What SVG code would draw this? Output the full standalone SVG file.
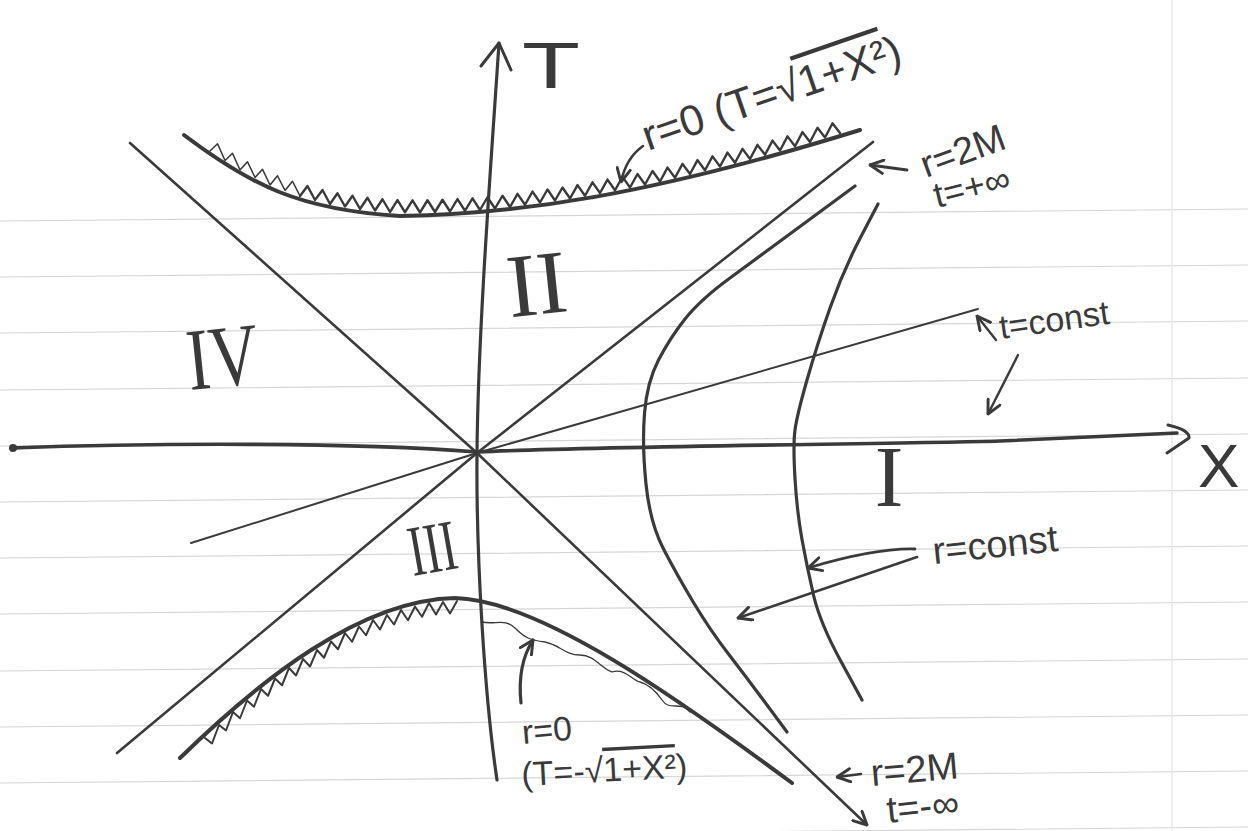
<svg xmlns="http://www.w3.org/2000/svg" width="1248" height="831" viewBox="0 0 1248 831">
<defs>
<style>
.ink{fill:none;stroke:#3a3a3a;stroke-linecap:round;stroke-linejoin:round}
.rule{stroke:#d6d6d6;stroke-width:1.2;fill:none}
.hw{font-family:"Liberation Sans","DejaVu Sans",sans-serif;fill:#3a3a3a}
.rn{font-family:"Liberation Serif","DejaVu Serif",serif;fill:#3a3a3a}
</style>
<marker id="ah" viewBox="0 0 12 12" refX="11" refY="6" markerWidth="16" markerHeight="16" markerUnits="userSpaceOnUse" orient="auto">
<path d="M1,1 L11,6 L1,11" fill="none" stroke="#3a3a3a" stroke-width="2.2" stroke-linecap="round" stroke-linejoin="round"/>
</marker>
</defs>
<rect width="1248" height="831" fill="#ffffff"/>
<g id="paper">
<path class="rule" d="M0,221 L1248,209 M0,277 L1248,265 M0,333 L1248,321 M0,390 L1248,378 M0,446 L1248,434 M0,502 L1248,490 M0,558 L1248,546 M0,614 L1248,602 M0,671 L1248,659 M0,727 L1248,715 M0,783 L1248,771 M0,839 L1248,827"/>
<path d="M1172,0 L1172,831" stroke="#e8e8e8" stroke-width="1.5"/>
</g>
<g id="axes">
<path class="ink" stroke-width="3.6" d="M12,448 C150,443 350,442 477,452 C600,446 900,444 1000,441 L1177,433"/>
<circle cx="13" cy="448" r="4" fill="#3a3a3a"/>
<path class="ink" stroke-width="3" d="M1168,425 Q1190,430 1189,438 L1167,453"/>
<path class="ink" stroke-width="3.2" d="M497,780 C485,700 476,560 477,453 C478,330 492,150 499,43"/>
<path class="ink" stroke-width="3" d="M481,66 L499,43 L511,70"/>
</g>
<g id="lightcone">
<path class="ink" stroke-width="2.6" d="M130,143 L477,453 L867,825" marker-end="url(#ah)"/>
<path class="ink" stroke-width="2.6" d="M117,753 L477,453 L873,142"/>
</g>
<g id="t-const-line">
<path class="ink" stroke-width="2" d="M191,543 L477,453 L978,309"/>
</g>
<g id="singularity-top">
<path class="ink" stroke-width="4" d="M184,135 C250,185 300,210 400,216 C520,214 650,195 860,130"/>
<path class="ink" stroke-width="1.6" stroke="#8a8a8a" d="M210,151 l7.5,-7.25 l7.5,16.75 l7.5,-7.25 l7.5,16.75 l7.5,-8.25 l7.5,15.75 l7.5,-8.25 l7.5,15.75 l7.5,-9.25 l7.5,14.75 l7.5,-9.25 l7.5,14.75"/>
<path class="ink" stroke-width="2.4" d="M300,196 l7.5,-10 l7.5,14 l7.5,-10 l7.5,14 l7.5,-10.75 l7.5,13.25 l7.5,-10.75 l7.5,13.25 l7.5,-11.25 l7.5,12.75 l7.5,-11.25 l7.5,12.75 l7.5,-11.875 l7.5,12.125 l7.5,-11.875 l7.5,12.125 l7.5,-12.25 l7.5,11.75 l7.5,-12.25 l7.5,11.75 l7.5,-12.375 l7.5,11.625 l7.5,-12.375 l7.5,11.625 l7.5,-12.75 l7.5,11.25 l7.5,-12.75 l7.5,11.25 l7.5,-13.125 l7.5,10.875 l7.5,-13.125 l7.5,10.875 l7.5,-13 l7.5,11 l7.5,-13 l7.5,11 l7.5,-13.375 l7.5,10.625 l7.5,-13.375 l7.5,10.625 l7.5,-13.375 l7.5,10.625 l7.5,-13.375 l7.5,10.625 l7.5,-13.5 l7.5,10.5 l7.5,-13.5 l7.5,10.5 l7.5,-13.875 l7.5,10.125 l7.5,-13.875 l7.5,10.125 l7.5,-13.875 l7.5,10.125 l7.5,-13.875 l7.5,10.125 l7.5,-13.875 l7.5,10.125 l7.5,-13.875 l7.5,10.125 l7.5,-14.125 l7.5,9.875 l7.5,-14.125 l7.5,9.875 l7.5,-14.125 l7.5,9.875 l7.5,-14.125 l7.5,9.875 l7.5,-14.25 l7.5,9.75 l7.5,-14.25 l7.5,9.75"/>
</g>
<g id="singularity-bottom">
<path class="ink" stroke-width="4" d="M180,758 C260,680 360,600 455,598 C540,600 680,700 792,783"/>
<path class="ink" stroke-width="2" d="M205,738 l7,5.5 l7,-18.5 l7,5.5 l7,-18.5 l7,6.25 l7,-17.75 l7,6.25 l7,-17.75 l7,6.75 l7,-17.25 l7,6.75 l7,-17.25 l7,7.5 l7,-16.5 l7,7.5 l7,-16.5 l7,7.75 l7,-16.25 l7,7.75 l7,-16.25 l7,8.75 l7,-15.25 l7,8.75 l7,-15.25 l7,9.5 l7,-14.5 l7,9.5 l7,-14.5 l7,10.25 l7,-13.75 l7,10.25 l7,-13.75 l7,11.5 l7,-12.5 l7,11.5 l7,-12.5"/>
<path class="ink" stroke-width="1.3" stroke="#8a8a8a" d="M482,622 C495,625 505,618 515,628 S530,640 545,642 C560,645 565,655 580,655 S600,668 612,672 C625,668 632,680 640,682 S655,690 662,700 C670,712 680,700 690,712"/>
</g>
<g id="r-const-curves">
<path class="ink" stroke-width="3.2" d="M855,186 L807.5,221 Q760,256 730,278 Q700,300 685,319 Q670,338 658.5,360 Q647,382 644.5,413.5 Q642,445 646,484 Q650,523 663.5,549 Q677,575 693.5,602.5 Q710,630 728.5,654 Q747,678 767,705 L787,732"/>
<path class="ink" stroke-width="3.2" d="M878,204 L860.5,237.5 Q843,271 830,308 Q817,345 807,380 Q797,415 795,430 Q793,445 795,478.5 Q797,512 802,539.5 Q807,567 813.5,595 Q820,623 841,661.5 L862,700"/>
</g>
<g id="connectors">
<path class="ink" stroke-width="2.6" d="M643,146 Q626,158 621,182" marker-end="url(#ah)"/>
<path class="ink" stroke-width="2.8" d="M907,170 L870,165" marker-end="url(#ah)"/>
<path class="ink" stroke-width="2.4" d="M996,340 L977,316" marker-end="url(#ah)"/>
<path class="ink" stroke-width="2.4" d="M1018,355 L988,414" marker-end="url(#ah)"/>
<path class="ink" stroke-width="2.8" d="M915,549 Q875,548 808,568" marker-end="url(#ah)"/>
<path class="ink" stroke-width="2.6" d="M917,557 L738,618" marker-end="url(#ah)"/>
<path class="ink" stroke-width="3.2" d="M521,703 Q517,665 533,640" marker-end="url(#ah)"/>
<path class="ink" stroke-width="2.6" d="M861,774 L837,777" marker-end="url(#ah)"/>
</g>
<g id="label-T"><text class="hw" x="522" y="88" font-size="64" textLength="58" lengthAdjust="spacingAndGlyphs">T</text></g>
<g id="label-X"><text class="hw" x="1198" y="487" font-size="62">X</text></g>
<g id="label-top-r0"><text class="hw" font-size="43" transform="translate(648,151) rotate(-19)">r=0 (T=√<tspan text-decoration="overline">1+X²</tspan>)</text></g>
<g id="label-top-r2M">
<text class="hw" font-size="38" transform="translate(926,178) rotate(-20)">r=2M</text>
<text class="hw" font-size="36" transform="translate(937,208) rotate(-14)">t=+∞</text>
</g>
<g id="label-tconst"><text class="hw" font-size="34" transform="translate(1001,339) rotate(-8)">t=const</text></g>
<g id="label-rconst"><text class="hw" font-size="38" transform="translate(934,564) rotate(-6)">r=const</text></g>
<g id="label-bottom-r0">
<text class="hw" font-size="34" transform="translate(523,744) rotate(-5)">r=0</text>
<text class="hw" font-size="34" transform="translate(522,786) rotate(-3)">(T=-√<tspan text-decoration="overline">1+X²</tspan>)</text>
</g>
<g id="label-bottom-r2M">
<text class="hw" font-size="38" transform="translate(872,786) rotate(-5)">r=2M</text>
<text class="hw" font-size="38" transform="translate(888,823) rotate(-6)">t=-∞</text>
</g>
<g id="region-I"><text class="rn" x="889" y="506" font-size="86" text-anchor="middle">I</text></g>
<g id="region-II"><text class="rn" font-size="90" transform="translate(540,314) rotate(-6)" text-anchor="middle">II</text></g>
<g id="region-III"><text class="rn" font-size="72" transform="translate(413,576) rotate(-10)" textLength="48" lengthAdjust="spacingAndGlyphs">III</text></g>
<g id="region-IV"><text class="rn" font-size="88" transform="translate(190,390) rotate(-6)" textLength="72" lengthAdjust="spacingAndGlyphs">IV</text></g>
</svg>
